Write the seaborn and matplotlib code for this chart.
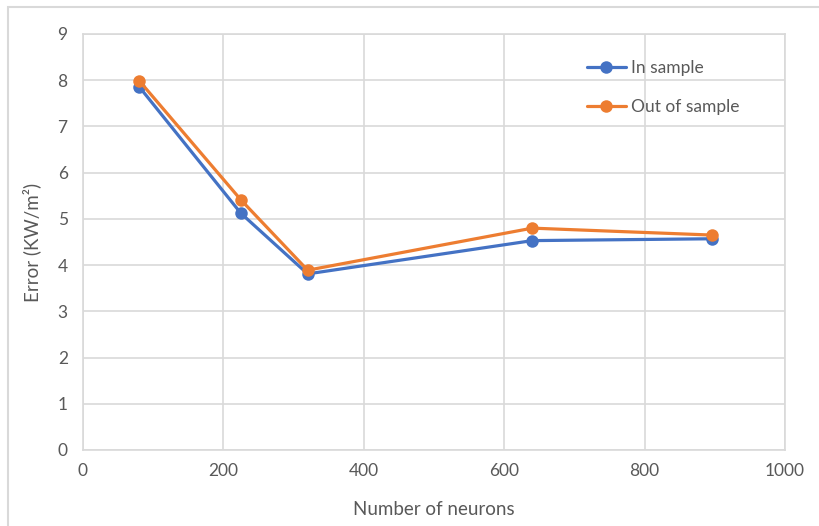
import matplotlib
matplotlib.use("Agg")
import matplotlib.pyplot as plt
import matplotlib.patches as mpatches
import seaborn as sns
import pandas as pd

neurons = [80, 225, 320, 640, 896]
in_sample = [7.86, 5.12, 3.81, 4.53, 4.57]
out_sample = [7.99, 5.41, 3.89, 4.80, 4.65]
series_names = ["In sample", "Out of sample"]
x_ticks = [0, 200, 400, 600, 800, 1000]
y_ticks = list(range(0, 10))

df = pd.DataFrame({
    "neurons": neurons * 2,
    "error": in_sample + out_sample,
    "series": [series_names[0]] * len(neurons) + [series_names[1]] * len(neurons),
})

sns.set_style("white")
plt.rcParams["font.family"] = ["Lato", "DejaVu Sans"]
text_color = "#595959"
grid_color = "#D9D9D9"

fig = plt.figure(figsize=(8.2, 5.26), dpi=100)
ax = fig.add_axes([83 / 820, 76 / 526, 702 / 820, 416 / 526])

# outer chart-area frame
fig.patches.append(mpatches.Rectangle((8 / 820, -0.1), 1.2, (526 - 7) / 526 + 0.1,
                                      transform=fig.transFigure, fill=False,
                                      edgecolor=grid_color, linewidth=1.5, zorder=0))

sns.lineplot(data=df, x="neurons", y="error", hue="series", marker="o",
             palette=["#4472C4", "#ED7D31"], linewidth=2.3, markersize=9,
             markeredgewidth=0, ax=ax)

ax.set_xlim(0, 1000)
ax.set_ylim(0, 9)
ax.set_xticks(x_ticks)
ax.set_yticks(y_ticks)
ax.grid(True, color=grid_color, linewidth=1.2)
ax.set_axisbelow(True)
for s in ax.spines.values():
    s.set_color(grid_color)
    s.set_linewidth(1.2)
ax.tick_params(length=0, labelsize=12.5, labelcolor=text_color, pad=9)
ax.tick_params(axis="y", pad=11)
ax.set_xlabel("Number of neurons", fontsize=13.5, color=text_color, labelpad=16)
ax.set_ylabel("Error (KW/m²)", fontsize=13.5, color=text_color, labelpad=12)

ax.legend(title=None, frameon=False, loc="upper left",
          bbox_to_anchor=(0.695, 0.975), fontsize=12.5, labelspacing=1.3,
          handlelength=2.3, handletextpad=0.25, labelcolor=text_color)

fig.savefig("out.png", dpi=100)
